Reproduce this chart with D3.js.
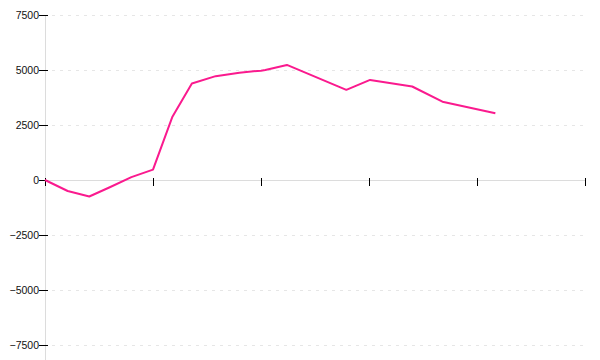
<!DOCTYPE html>
<html>
<head>
<meta charset="utf-8">
<script src="https://cdn.jsdelivr.net/npm/d3@7"></script>
<style>
  html, body { margin: 0; padding: 0; background: #fff; }
  svg { display: block; }
</style>
</head>
<body>
<svg id="chart" width="600" height="360"></svg>
<script>
// Data (x position in axis units, y value)
const xPositions = [0, 1.05, 2.05, 3.0, 4.0, 5.0, 5.9, 6.8, 7.9, 9.0, 10.0, 10.2, 11.2, 13.95, 15.05, 17.0, 18.4, 20.85];
const seriesValues = [0, -500, -750, -330, 130, 470, 2880, 4390, 4720, 4880, 4970, 5000, 5230, 4100, 4550, 4250, 3560, 3030];
const yTickValues = [-7500, -5000, -2500, 0, 2500, 5000, 7500];
const xTickValues = [0, 5, 10, 15, 20, 25];

const svg = d3.select("#chart");
const mLeft = 45, mRight = 585, mTop = 15, mBottom = 345;

const x = d3.scaleLinear().domain([0, 25]).range([mLeft, mRight]);
const y = d3.scaleLinear().domain([-7500, 7500]).range([mBottom, mTop]);

// Gridlines (dashed light gray), skip zero
svg.append("g").selectAll("line")
  .data(yTickValues.filter(v => v !== 0))
  .join("line")
  .attr("x1", mLeft + 7).attr("x2", mRight)
  .attr("y1", d => y(d) + 0.5).attr("y2", d => y(d) + 0.5)
  .attr("stroke", "#e6e6e6")
  .attr("stroke-width", 1)
  .attr("stroke-dasharray", "3,5");

// Left axis line
svg.append("line")
  .attr("x1", mLeft + 0.5).attr("x2", mLeft + 0.5)
  .attr("y1", mTop).attr("y2", 360)
  .attr("stroke", "#dcdcdc").attr("stroke-width", 1);

// Horizontal zero axis line
svg.append("line")
  .attr("x1", mLeft).attr("x2", mRight)
  .attr("y1", y(0) + 0.5).attr("y2", y(0) + 0.5)
  .attr("stroke", "#dcdcdc").attr("stroke-width", 1);

// Y ticks
const yAxis = d3.axisLeft(y).tickValues(yTickValues).tickSize(0).tickPadding(6)
  .tickFormat(d => d < 0 ? "\u2212" + Math.abs(d) : String(d));
const gy = svg.append("g").attr("transform", `translate(${mLeft},0)`).call(yAxis);
gy.select(".domain").remove();
gy.selectAll("text")
  .attr("font-family", "Liberation Sans, Arial, sans-serif")
  .attr("font-size", "10.5px")
  .attr("fill", "#111");
gy.selectAll(".tick").append("line")
  .attr("x1", -6).attr("x2", 3)
  .attr("y1", 0).attr("y2", 0)
  .attr("stroke", "#000").attr("stroke-width", 1);

// X ticks (no labels)
const xAxis = d3.axisBottom(x).tickValues(xTickValues).tickSize(0).tickFormat("");
const gx = svg.append("g").attr("transform", `translate(0,${y(0)})`).call(xAxis);
gx.select(".domain").remove();
gx.selectAll(".tick").append("line")
  .attr("x1", 0).attr("x2", 0)
  .attr("y1", -2).attr("y2", 6)
  .attr("stroke", "#000").attr("stroke-width", 1);

// Series line
const line = d3.line()
  .x((d, i) => x(xPositions[i]))
  .y(d => y(d));
svg.append("path")
  .datum(seriesValues)
  .attr("d", line)
  .attr("fill", "none")
  .attr("stroke", "#fa1a8e")
  .attr("stroke-width", 2)
  .attr("stroke-linejoin", "round");
</script>
</body>
</html>
